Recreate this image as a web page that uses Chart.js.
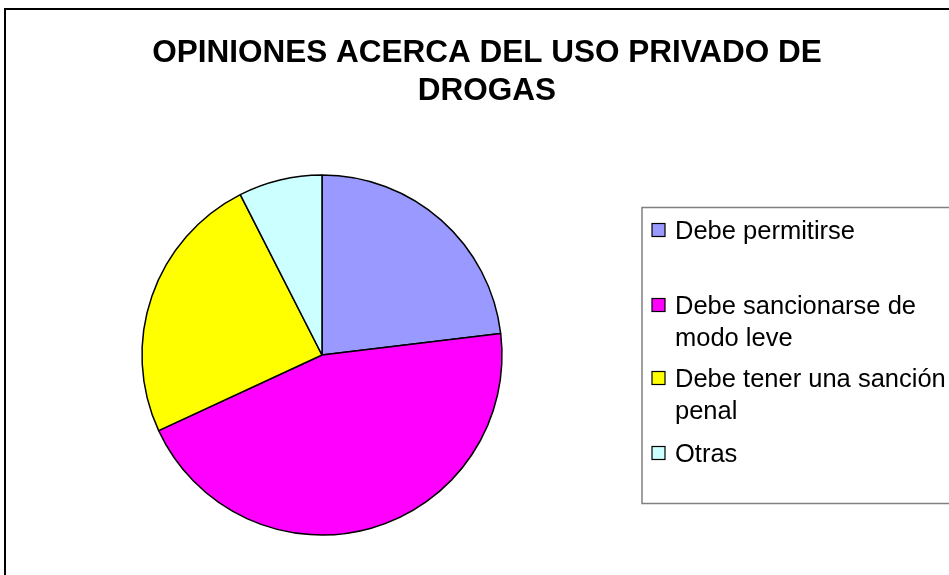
<!DOCTYPE html>
<html>
<head>
<meta charset="utf-8">
<title>Opiniones acerca del uso privado de drogas</title>
<script src="https://cdn.jsdelivr.net/npm/chart.js@4/dist/chart.umd.min.js"></script>
<style>
  html, body { margin: 0; padding: 0; background: #fff; }
  canvas { display: block; }
</style>
</head>
<body>
<canvas id="pieChart" width="949" height="575"></canvas>
<script>
// datos (porcentajes aproximados)
const categorias = ['Debe permitirse', 'Debe sancionarse de modo leve', 'Debe tener una sanción penal', 'Otras'];
const lineasLeyenda = [['Debe permitirse'], ['Debe sancionarse de', 'modo leve'], ['Debe tener una sanción', 'penal'], ['Otras']];
const valores = [23.1, 45.0, 24.4, 7.5];
const colores = ['#9999FF', '#FF00FF', '#FFFF00', '#CCFFFF'];
const titulo = ['OPINIONES ACERCA DEL USO PRIVADO DE', 'DROGAS'];

// marco, título y leyenda al estilo Excel
const decoracion = {
    id: 'decoracion',
    afterDraw(chart) {
        const ctx = chart.ctx;
        ctx.save();

        // marco exterior
        ctx.strokeStyle = '#000';
        ctx.lineWidth = 2;
        ctx.strokeRect(5, 9, 1000, 1000);

        // título
        ctx.fillStyle = '#000';
        ctx.textAlign = 'center';
        ctx.textBaseline = 'alphabetic';
        ctx.font = "bold 31.5px 'Liberation Sans', Arial, sans-serif";
        ctx.fillText(titulo[0], 487, 62);
        ctx.fillText(titulo[1], 487, 100);

        // leyenda
        ctx.strokeStyle = '#808080';
        ctx.lineWidth = 1.5;
        ctx.strokeRect(642, 207.5, 400, 296);

        const yItems = [230, 305, 378, 453];
        ctx.font = "25.5px 'Liberation Sans', Arial, sans-serif";
        ctx.textAlign = 'left';
        const meta = chart.getDatasetMeta(0);
        lineasLeyenda.forEach((lineas, i) => {
            const y = yItems[i];
            ctx.fillStyle = meta.data[i].options.backgroundColor;
            ctx.fillRect(652, y - 6.5, 13, 13);
            ctx.strokeStyle = '#000';
            ctx.lineWidth = 1.2;
            ctx.strokeRect(652, y - 6.5, 13, 13);
            ctx.fillStyle = '#000';
            lineas.forEach((t, j) => ctx.fillText(t, 675, y + 9 + j * 32));
        });

        ctx.restore();
    }
};

new Chart(document.getElementById('pieChart'), {
    type: 'pie',
    data: {
        labels: categorias,
        datasets: [{
            data: valores,
            backgroundColor: colores,
            borderColor: '#000',
            borderWidth: 1.5,
            hoverOffset: 0
        }]
    },
    options: {
        responsive: false,
        animation: false,
        radius: 180,
        layout: {
            padding: { left: 132, right: 437, top: 165, bottom: 30 }
        },
        plugins: {
            legend: { display: false },
            title: { display: false },
            tooltip: { enabled: false }
        }
    },
    plugins: [decoracion]
});
</script>
</body>
</html>
